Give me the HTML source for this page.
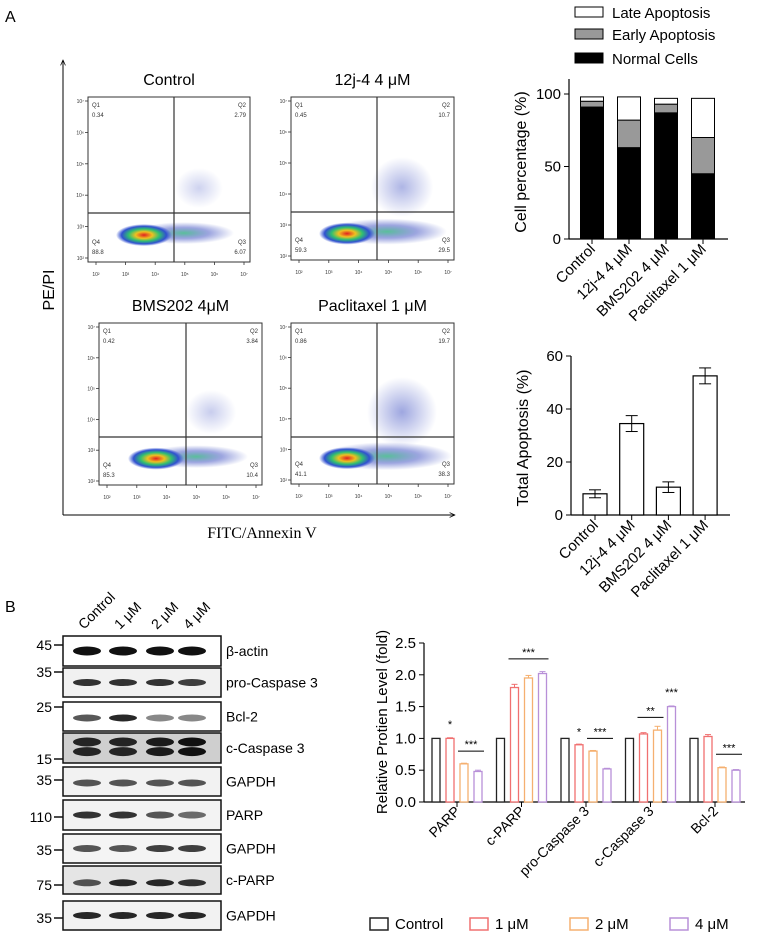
<!DOCTYPE html>
<html><head><meta charset="utf-8"><style>
html,body{margin:0;padding:0;background:#fff;}
svg{display:block;font-family:"Liberation Sans",Arial,sans-serif;}
</style></head><body>
<svg id="fig" width="760" height="937" viewBox="0 0 760 937" xmlns="http://www.w3.org/2000/svg">
<defs>
<radialGradient id="hot" cx="50%" cy="50%" r="50%">
<stop offset="0" stop-color="#e02020"/><stop offset="0.3" stop-color="#f0c020"/><stop offset="0.55" stop-color="#30c070"/><stop offset="0.8" stop-color="#3050d0"/><stop offset="1" stop-color="#3050d0" stop-opacity="0"/>
</radialGradient>
<radialGradient id="haze" cx="50%" cy="50%" r="50%">
<stop offset="0" stop-color="#3a4cc0" stop-opacity="0.55"/><stop offset="1" stop-color="#3a4cc0" stop-opacity="0"/>
</radialGradient>
<radialGradient id="haze2" cx="50%" cy="50%" r="50%">
<stop offset="0" stop-color="#30b080" stop-opacity="0.8"/><stop offset="0.5" stop-color="#3a4cc0" stop-opacity="0.5"/><stop offset="1" stop-color="#3a4cc0" stop-opacity="0"/>
</radialGradient>
<marker id="arr" viewBox="0 0 10 10" refX="9" refY="5" markerWidth="6" markerHeight="6" orient="auto"><path d="M0,1 L9,5 L0,9" fill="none" stroke="#000" stroke-width="1.2"/></marker>
</defs>
<text x="5" y="22" font-size="16">A</text>
<text x="5" y="612" font-size="16">B</text>
<g id="flow"></g>
<g id="stack"></g>
<g id="apop"></g>
<g id="blot"></g>
<g id="grp"></g>
</svg>
<script>
// ---------- data ----------
const stackCats = ["Control","12j-4 4 μM","BMS202 4 μM","Paclitaxel 1 μM"];
const normalCells = [91, 63, 87, 45];
const earlyApop = [4, 19, 6, 25];
const lateApop = [3, 16, 4, 27];
const stackTicks = [0, 50, 100];
const apopCats = ["Control","12j-4 4 μM","BMS202 4 μM","Paclitaxel 1 μM"];
const apopMean = [8, 34.5, 10.5, 52.5];
const apopErr = [1.5, 3, 2, 3];
const apopTicks = [0, 20, 40, 60];
const protCats = ["PARP","c-PARP","pro-Caspase 3","c-Caspase 3","Bcl-2"];
const protCtrl = [1, 1, 1, 1, 1];
const prot1 = [1.0, 1.8, 0.9, 1.07, 1.03];
const prot2 = [0.6, 1.95, 0.8, 1.13, 0.54];
const prot4 = [0.48, 2.02, 0.52, 1.5, 0.5];
const protErr1 = [0.01, 0.05, 0.01, 0.02, 0.03];
const protErr2 = [0.01, 0.04, 0.01, 0.06, 0.01];
const protErr4 = [0.02, 0.03, 0.01, 0.01, 0.01];
const protTicks = [0, 0.5, 1.0, 1.5, 2.0, 2.5];
const seriesNames = ["Control","1 μM","2 μM","4 μM"];
const flowTitles = ["Control","12j-4 4 μM","BMS202 4μM","Paclitaxel 1 μM"];
const flowQ1 = ["0.34","0.45","0.42","0.86"];
const flowQ2 = ["2.79","10.7","3.84","19.7"];
const flowQ3 = ["6.07","29.5","10.4","38.3"];
const flowQ4 = ["88.8","59.3","85.3","41.1"];
const blotLabels = ["β-actin","pro-Caspase 3","Bcl-2","c-Caspase 3","GAPDH","PARP","GAPDH","c-PARP","GAPDH"];
const blotMarkers = ["45","35","25","15","35","110","35","75","35"];
const laneNames = ["Control","1 μM","2 μM","4 μM"];

const NS="http://www.w3.org/2000/svg";
function mk(parent, tag, attrs, txt){const e=document.createElementNS(NS,tag);for(const k in attrs)e.setAttribute(k,attrs[k]);if(txt!==undefined)e.textContent=txt;parent.appendChild(e);return e;}

// ---------- flow cytometry ----------
const flow=document.getElementById('flow');
mk(flow,'line',{x1:63,y1:515,x2:63,y2:60,stroke:'#000','stroke-width':1,'marker-end':'url(#arr)'});
mk(flow,'line',{x1:63,y1:515,x2:455,y2:515,stroke:'#000','stroke-width':1,'marker-end':'url(#arr)'});
let t=mk(flow,'text',{x:0,y:0,'font-size':16,'text-anchor':'middle',transform:'translate(54,290) rotate(-90)'},'PE/PI');


t=mk(flow,'text',{x:262,y:538,'font-size':16,'text-anchor':'middle','font-family':'Liberation Serif, serif'},'FITC/Annexin V');


const panels=[{l:88,t:97,r:250,b:262,vx:174,hy:213},{l:291,t:97,r:454,b:260,vx:377,hy:212},{l:99,t:323,r:262,b:485,vx:186,hy:437},{l:291,t:323,r:454,b:484,vx:377,hy:437}];
const spread=[0.25,0.75,0.35,1];
panels.forEach((p,i)=>{
  const g=mk(flow,'g',{});
  
  
  const tt=mk(g,'text',{x:(p.l+p.r)/2,y:p.t-12,'font-size':16,'text-anchor':'middle'},flowTitles[i]);
  
  
  const cy=p.hy+(p.b-p.hy)*0.45;
  const s=spread[i];
  mk(g,'ellipse',{cx:p.vx+25,cy:p.hy-25,rx:20+15*s,ry:15+20*s,fill:'url(#haze)',opacity:0.3+0.6*s});
  mk(g,'ellipse',{cx:p.vx+10,cy:cy-2,rx:45+20*s,ry:10+4*s,fill:'url(#haze2)'});
  mk(g,'ellipse',{cx:p.vx-30,cy:cy,rx:28,ry:11,fill:'url(#hot)'});
  mk(g,'rect',{x:p.l,y:p.t,width:p.r-p.l,height:p.b-p.t,fill:'none',stroke:'#333','stroke-width':1});
  mk(g,'line',{x1:p.vx,y1:p.t,x2:p.vx,y2:p.b,stroke:'#333','stroke-width':1.2});
  mk(g,'line',{x1:p.l,y1:p.hy,x2:p.r,y2:p.hy,stroke:'#333','stroke-width':1.2});
  const fs=6;
  mk(g,'text',{x:p.l+4,y:p.t+10,'font-size':fs,fill:'#333'},'Q1');
  mk(g,'text',{x:p.l+4,y:p.t+20,'font-size':fs,fill:'#333'},flowQ1[i]);
  mk(g,'text',{x:p.r-4,y:p.t+10,'font-size':fs,fill:'#333','text-anchor':'end'},'Q2');
  mk(g,'text',{x:p.r-4,y:p.t+20,'font-size':fs,fill:'#333','text-anchor':'end'},flowQ2[i]);
  mk(g,'text',{x:p.l+4,y:p.b-18,'font-size':fs,fill:'#333'},'Q4');
  mk(g,'text',{x:p.l+4,y:p.b-8,'font-size':fs,fill:'#333'},flowQ4[i]);
  mk(g,'text',{x:p.r-4,y:p.b-18,'font-size':fs,fill:'#333','text-anchor':'end'},'Q3');
  mk(g,'text',{x:p.r-4,y:p.b-8,'font-size':fs,fill:'#333','text-anchor':'end'},flowQ3[i]);
  const exps=[2,3,4,5,6,7];
  exps.forEach((e,k)=>{
    const x=p.l+8+k*(p.r-p.l-14)/5;
    mk(g,'text',{x:x,y:p.b+14,'font-size':5,'text-anchor':'middle',fill:'#333'},'10'+['²','³','⁴','⁵','⁶','⁷'][k]);
    mk(g,'line',{x1:x,y1:p.b,x2:x,y2:p.b+3,stroke:'#333','stroke-width':0.8});
    const y=p.b-4-k*(p.b-p.t-8)/5;
    mk(g,'text',{x:p.l-4,y:y+2,'font-size':5,'text-anchor':'end',fill:'#333'},'10'+['²','³','⁴','⁵','⁶','⁷'][k]);
    mk(g,'line',{x1:p.l-3,y1:y,x2:p.l,y2:y,stroke:'#333','stroke-width':0.8});
  });
});

// ---------- stacked bar ----------
const st=document.getElementById('stack');
const yS=v=>239-v*1.45;
const xS=i=>592+i*37;
[["Late Apoptosis","#fff",12],["Early Apoptosis","#999",34],["Normal Cells","#000",58]].forEach(l=>{
  const g=mk(st,'g',{});
  
  
  mk(g,'rect',{x:575,y:l[2]-5,width:28,height:10,fill:l[1],stroke:'#000','stroke-width':1});
  mk(g,'text',{x:612,y:l[2]+6,'font-size':15},l[0]);
});
mk(st,'line',{x1:569,y1:79,x2:569,y2:239,stroke:'#000','stroke-width':1.2});
mk(st,'line',{x1:569,y1:239,x2:728,y2:239,stroke:'#000','stroke-width':1.2});
stackTicks.forEach(v=>{mk(st,'line',{x1:564,y1:yS(v),x2:569,y2:yS(v),stroke:'#000'});
  const tl=mk(st,'text',{x:561,y:yS(v)+5,'font-size':15,'text-anchor':'end'},v);
  
  });
t=mk(st,'text',{x:0,y:0,'font-size':16,'text-anchor':'middle',transform:'translate(526,162) rotate(-90)'},'Cell percentage (%)');


stackCats.forEach((c,i)=>{
  const x=xS(i), w=23;
  const layers=[[0,normalCells[i],'#000'],[normalCells[i],normalCells[i]+earlyApop[i],'#999'],[normalCells[i]+earlyApop[i],normalCells[i]+earlyApop[i]+lateApop[i],'#fff']];
  layers.forEach((L,k)=>{const r=mk(st,'rect',{x:x-w/2,y:yS(L[1]),width:w,height:yS(L[0])-yS(L[1]),fill:L[2],stroke:'#000','stroke-width':1});
    
    });
  mk(st,'line',{x1:x,y1:239,x2:x,y2:244,stroke:'#000'});
  const tl=mk(st,'text',{x:0,y:0,'font-size':15,'text-anchor':'end',transform:`translate(${x+4},${250}) rotate(-45)`},c);
  
  
});

// ---------- total apoptosis ----------
const ap=document.getElementById('apop');
const yA=v=>515-v*(159/60);
const xA=i=>595+i*36.7;
mk(ap,'line',{x1:571,y1:356,x2:571,y2:515,stroke:'#000','stroke-width':1.2});
mk(ap,'line',{x1:571,y1:515,x2:730,y2:515,stroke:'#000','stroke-width':1.2});
apopTicks.forEach(v=>{mk(ap,'line',{x1:566,y1:yA(v),x2:571,y2:yA(v),stroke:'#000'});
  const tl=mk(ap,'text',{x:563,y:yA(v)+5,'font-size':15,'text-anchor':'end'},v);
  
  });
t=mk(ap,'text',{x:0,y:0,'font-size':16,'text-anchor':'middle',transform:'translate(528,438) rotate(-90)'},'Total Apoptosis (%)');


apopCats.forEach((c,i)=>{
  const x=xA(i),w=24;
  const r=mk(ap,'rect',{x:x-w/2,y:yA(apopMean[i]),width:w,height:515-yA(apopMean[i]),fill:'#fff',stroke:'#000','stroke-width':1.2});
  
  
  const hi=yA(apopMean[i]+apopErr[i]),lo=yA(apopMean[i]-apopErr[i]);
  mk(ap,'line',{x1:x,y1:hi,x2:x,y2:lo,stroke:'#000'});
  mk(ap,'line',{x1:x-6,y1:hi,x2:x+6,y2:hi,stroke:'#000'});
  mk(ap,'line',{x1:x-6,y1:lo,x2:x+6,y2:lo,stroke:'#000'});
  mk(ap,'line',{x1:x,y1:515,x2:x,y2:520,stroke:'#000'});
  const tl=mk(ap,'text',{x:0,y:0,'font-size':15,'text-anchor':'end',transform:`translate(${x+4},${526}) rotate(-45)`},c);
  
  
});

// ---------- western blot ----------
const bl=document.getElementById('blot');
const rows=[[636,666],[668,697],[702,731],[733,763],[767,796],[800,830],[834,863],[866,894],[901,930]];
const markY=[645,672,707,759,780,817,850,885,918];
const bandY=[0.5,0.5,0.55,[0.3,0.62],0.55,0.5,0.5,0.6,0.5];
const bandI=[[1,1,1,1],[0.85,0.85,0.85,0.8],[0.7,0.9,0.5,0.5],[0.9,0.9,0.95,1],[0.7,0.7,0.7,0.7],[0.85,0.85,0.7,0.6],[0.7,0.7,0.8,0.8],[0.7,0.9,0.9,0.85],[0.9,0.9,0.9,0.9]];
const bgs=['#fff','#f1f1f1','#fff','#cfcfcf','#f2f2f2','#f3f3f3','#f4f4f4','#e5e5e5','#f2f2f2'];
const lanes=[87,123,160,192];
rows.forEach((r,i)=>{
  const g=mk(bl,'g',{});
  
  
  mk(g,'rect',{x:63,y:r[0],width:158,height:r[1]-r[0],fill:bgs[i],stroke:'#111','stroke-width':1.5});
  const ys=Array.isArray(bandY[i])?bandY[i]:[bandY[i]];
  ys.forEach(f=>{
    lanes.forEach((lx,k)=>{
      const h=(i===3?7:5)+(i===0?2:0);
      mk(g,'ellipse',{cx:lx,cy:r[0]+(r[1]-r[0])*f,rx:14,ry:h/2+1,fill:'#111',opacity:bandI[i][k]});
    });
  });
  mk(g,'text',{x:226,y:(r[0]+r[1])/2+5,'font-size':14},blotLabels[i]);
  mk(g,'text',{x:52,y:markY[i]+5,'font-size':14,'text-anchor':'end'},blotMarkers[i]);
  mk(g,'line',{x1:54,y1:markY[i],x2:63,y2:markY[i],stroke:'#111','stroke-width':1.5});
});
laneNames.forEach((n,k)=>{
  const tl=mk(bl,'text',{x:0,y:0,'font-size':14,transform:`translate(${lanes[k]-3},${630}) rotate(-45)`},n);
  
  
});

// ---------- grouped bar ----------
const gp=document.getElementById('grp');
const yG=v=>802-v*63.6;
const xG=(gi,s)=>432+gi*64.5+s*14;
const colors=['#222','#f07070','#f5b070','#b890d8'];
mk(gp,'line',{x1:424,y1:643,x2:424,y2:802,stroke:'#000','stroke-width':1.2});
mk(gp,'line',{x1:424,y1:802,x2:745,y2:802,stroke:'#000','stroke-width':1.2});
protTicks.forEach(v=>{mk(gp,'line',{x1:419,y1:yG(v),x2:424,y2:yG(v),stroke:'#000'});
  const tl=mk(gp,'text',{x:416,y:yG(v)+5,'font-size':15,'text-anchor':'end'},v.toFixed(1));
  
  });
t=mk(gp,'text',{x:0,y:0,'font-size':15,'text-anchor':'middle',transform:'translate(387,722) rotate(-90)'},'Relative Protien Level (fold)');


const vals=[protCtrl,prot1,prot2,prot4];
const errs=[null,protErr1,protErr2,protErr4];
protCats.forEach((c,gi)=>{
  for(let s=0;s<4;s++){
    const x=xG(gi,s),v=vals[s][gi];
    const r=mk(gp,'rect',{x:x,y:yG(v),width:8,height:802-yG(v),fill:'#fff',stroke:colors[s],'stroke-width':1.3});
    
    
    if(errs[s]){const hi=yG(v+errs[s][gi]);mk(gp,'line',{x1:x+4,y1:yG(v),x2:x+4,y2:hi,stroke:colors[s]});mk(gp,'line',{x1:x+1,y1:hi,x2:x+7,y2:hi,stroke:colors[s]});}
  }
  const cx=(xG(gi,0)+xG(gi,3)+8)/2;
  mk(gp,'line',{x1:cx,y1:802,x2:cx,y2:807,stroke:'#000'});
  const tl=mk(gp,'text',{x:0,y:0,'font-size':14,'text-anchor':'end',transform:`translate(${cx+4},${812}) rotate(-45)`},c);
  
  
});
// significance marks
function sig(gi,s1,s2,v,lab){const x1=xG(gi,s1),x2=xG(gi,s2)+8;const y=yG(v);
  if(s1!==s2)mk(gp,'line',{x1:x1-2,y1:y,x2:x2+2,y2:y,stroke:'#000','stroke-width':1});
  mk(gp,'text',{x:(x1+x2)/2,y:y-3,'font-size':11,'text-anchor':'middle'},lab);}
sig(0,1,1,1.12,'*'); sig(0,2,3,0.8,'***');
sig(1,1,3,2.25,'***');
sig(2,1,1,1.0,'*'); sig(2,2,3,1.0,'***');
sig(3,1,2,1.33,'**'); sig(3,3,3,1.62,'***');
sig(4,2,3,0.75,'***');
seriesNames.forEach((n,s)=>{
  const g=mk(gp,'g',{});
  
  
  const x=370+s*100;
  mk(g,'rect',{x:x,y:918,width:18,height:12,fill:'#fff',stroke:colors[s],'stroke-width':1.5});
  mk(g,'text',{x:x+25,y:929,'font-size':15},n);
});
</script>
</body></html>
